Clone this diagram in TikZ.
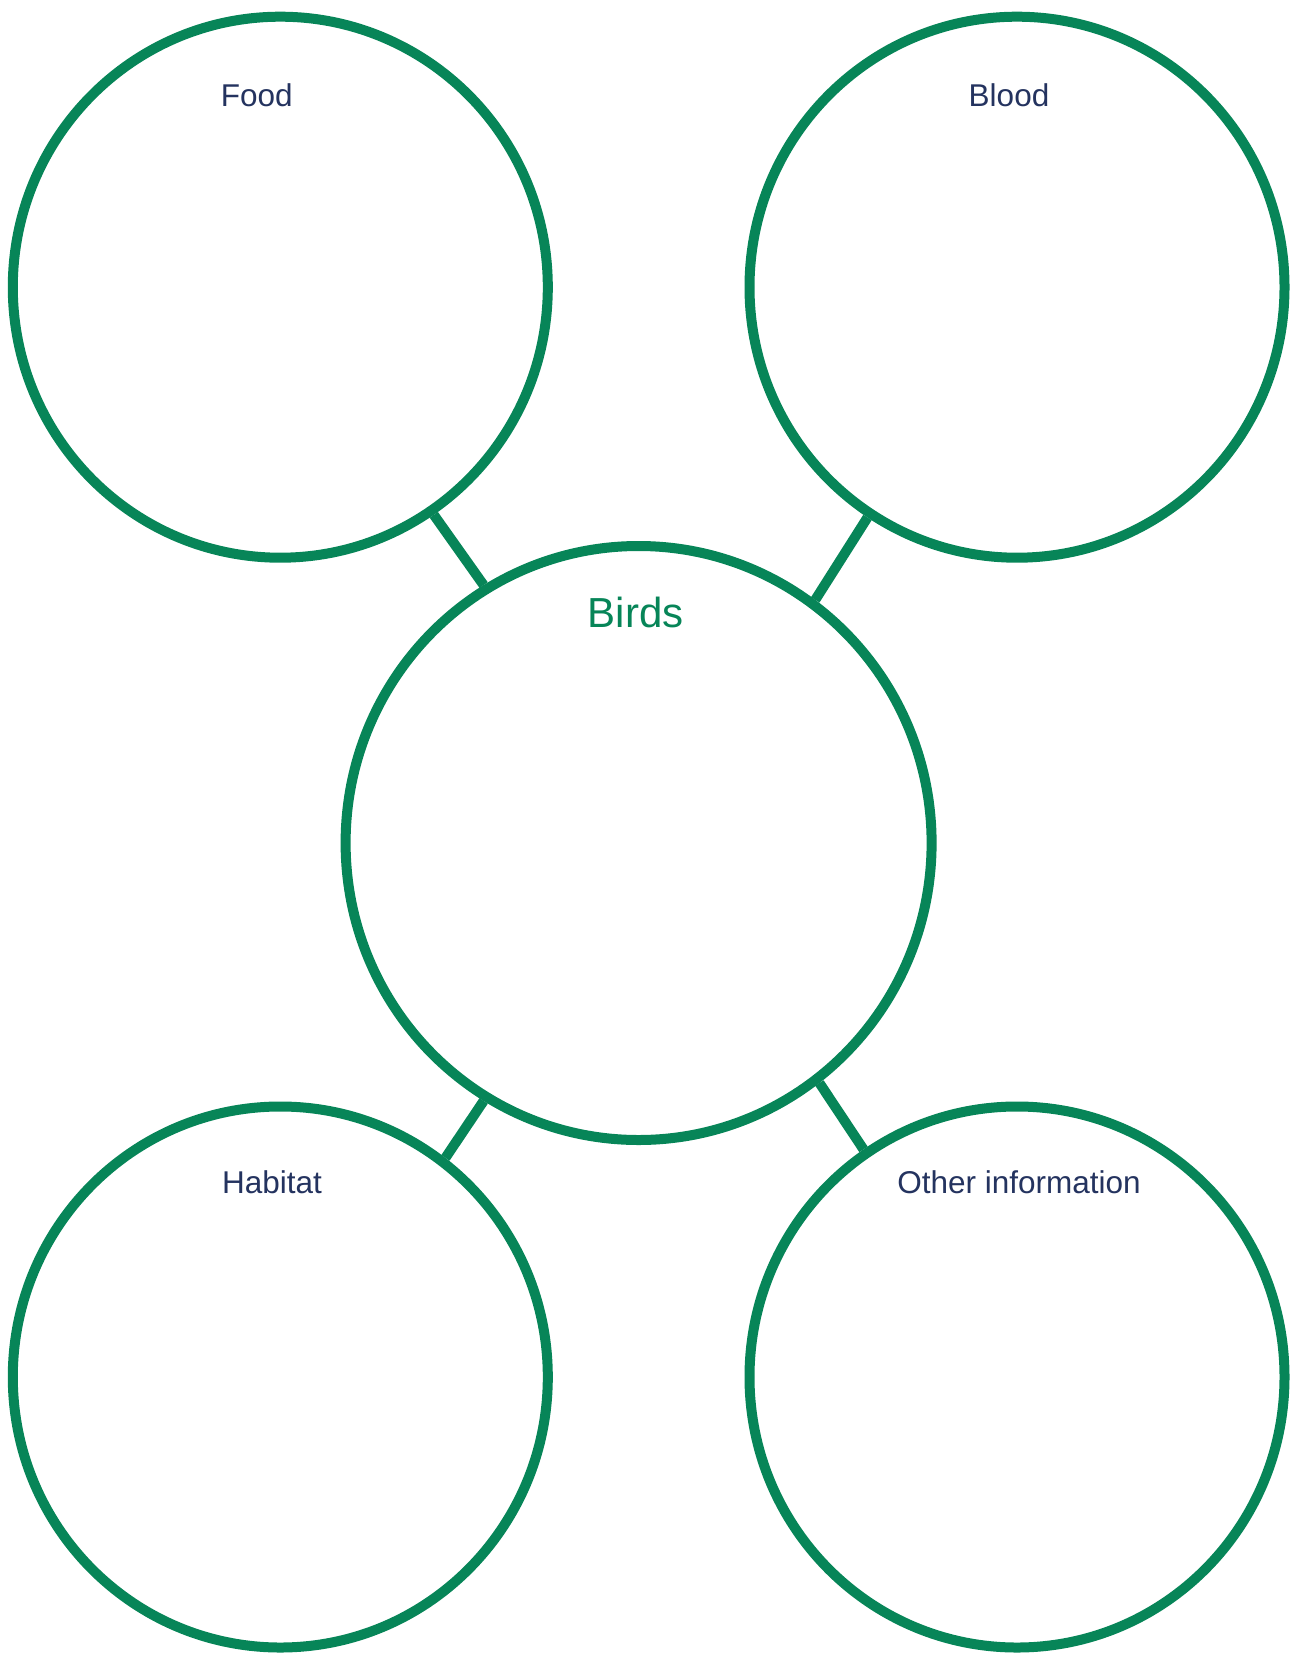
\documentclass[tikz,border=0pt]{standalone}
\usepackage{fontspec}
\setmainfont{Liberation Sans}
\usetikzlibrary{shapes.geometric}
\definecolor{bgreen}{HTML}{078558}
\definecolor{navy}{HTML}{24335F}
\begin{document}
\begin{tikzpicture}[x=1pt,y=-1pt,
  bubble/.style={ellipse,draw=bgreen,line width=10pt,inner sep=0pt,fill=none},
  small/.style={minimum width=535pt,minimum height=541pt},
  big/.style={minimum width=586pt,minimum height=594pt},
  link/.style={draw=bgreen,line width=10pt},
  lbl/.style={anchor=base,inner sep=0pt,text=navy,font=\fontsize{31.5}{36}\selectfont},
  title/.style={anchor=base,inner sep=0pt,text=bgreen,font=\fontsize{42}{48}\selectfont}]
\useasboundingbox (0,0) rectangle (1293,1653);
\node[bubble,small] (food) at (280.3,287.2) {};
\node[bubble,small] (blood) at (1017,287.2) {};
\node[bubble,big] (birds) at (638.6,843) {};
\node[bubble,small] (habitat) at (280.3,1377) {};
\node[bubble,small] (other) at (1017,1377) {};
\draw[link] (food.-56.4) -- (birds.121.8);
\draw[link] (blood.-123.05) -- (birds.54.4);
\draw[link] (habitat.53.9) -- (birds.-121.7);
\draw[link] (other.124.97) -- (birds.-53.95);
\node[lbl] (tfood) at (256.7,107) {Food};
\node[lbl] (tblood) at (1009,107) {Blood};
\node[title] (tbirds) at (635.6,627) {Birds};
\node[lbl] (thab) at (272,1193.3) {Habitat};
\node[lbl] (toth) at (1019,1193.3) {Other information};
\end{tikzpicture}
\end{document}
